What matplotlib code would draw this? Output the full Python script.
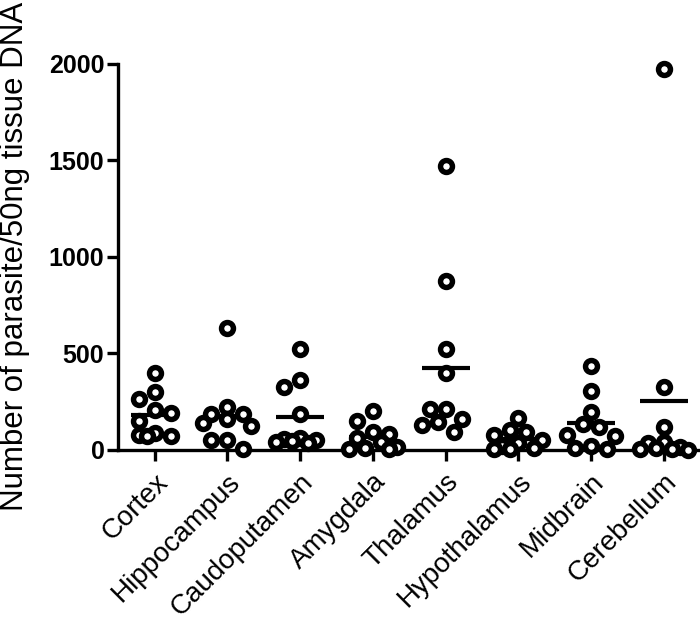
import numpy as np
import matplotlib.pyplot as plt

plt.rcParams['font.family'] = ['Liberation Sans', 'DejaVu Sans']

# Datos: parasitos por region cerebral
regions = ['Cortex', 'Hippocampus', 'Caudoputamen', 'Amygdala', 'Thalamus',
           'Hypothalamus', 'Midbrain', 'Cerebellum']
cortex = [399, 300, 260, 205, 188, 148, 85, 75, 72, 70]
hippocampus = [630, 219, 184, 184, 160, 136, 120, 49, 49, 2]
caudoputamen = [520, 361, 323, 184, 60, 55, 50, 45, 40, 35]
amygdala = [201, 150, 90, 80, 60, 40, 15, 10, 5, 2]
thalamus = [1470, 875, 520, 399, 209, 209, 157, 144, 127, 92]
hypothalamus = [162, 101, 92, 75, 49, 34, 20, 10, 5, 2]
midbrain = [433, 304, 196, 131, 118, 75, 70, 20, 10, 5]
cerebellum = [1975, 323, 115, 40, 35, 15, 10, 5, 2, 0]
series = [cortex, hippocampus, caudoputamen, amygdala, thalamus,
          hypothalamus, midbrain, cerebellum]
yticks = [0, 500, 1000, 1500, 2000]


def swarm(vals, px_x, px_y, d=14.0, step=8.0, nmax=3):
    # desplazamiento horizontal tipo "beeswarm" para evitar solapamientos
    vals = np.asarray(vals, dtype=float)
    offs = np.zeros(len(vals))
    placed = []
    for i in np.argsort(-vals):
        y = vals[i] * px_y
        cands = [0.0]
        for k in range(1, nmax + 1):
            cands += [-k * step, k * step]
        best, best_gap = 0.0, -1
        for c in cands:
            gap = min([np.hypot(c - px, y - py) for px, py in placed], default=1e9)
            if gap >= d:
                best = c
                break
            if gap > best_gap:
                best, best_gap = c, gap
        placed.append((best, y))
        offs[i] = best / px_x
    return offs


fig = plt.figure(figsize=(7, 6.2), dpi=100)
ax = fig.add_axes([0.169, 0.275, 0.831, 0.622])
ax.set_xlim(-0.5, 7.5)
ax.set_ylim(0, 2000)

px_x = 0.831 * 700 / 8
px_y = 0.622 * 620 / 2000

for i, vals in enumerate(series):
    offs = swarm(vals, px_x, px_y)
    m = np.mean(vals)
    ax.plot([i - 0.33, i + 0.33], [m, m], color='black', lw=3, zorder=2,
            solid_capstyle='butt')
    ax.plot(i + offs, vals, 'o', ms=8.6, mew=3.9, mec='black', mfc='white',
            zorder=3, clip_on=False)

ax.spines['top'].set_visible(False)
ax.spines['right'].set_visible(False)
for s in ['left', 'bottom']:
    ax.spines[s].set_linewidth(2.4)

ax.set_yticks(yticks)
ax.set_yticklabels([str(v) for v in yticks], fontweight='bold')
ax.set_xticks(range(len(regions)))
ax.set_xticklabels(regions, rotation=45, ha='right', rotation_mode='anchor')
ax.tick_params(axis='y', length=8, width=2.4, labelsize=18, pad=2)
ax.tick_params(axis='x', length=8, width=2.4, labelsize=20, pad=6)

ax.set_ylabel('Number of parasite/50ng tissue DNA', fontsize=22.5)
ax.yaxis.set_label_coords(-0.152, 0.5)

plt.savefig('out.png', dpi=100)
